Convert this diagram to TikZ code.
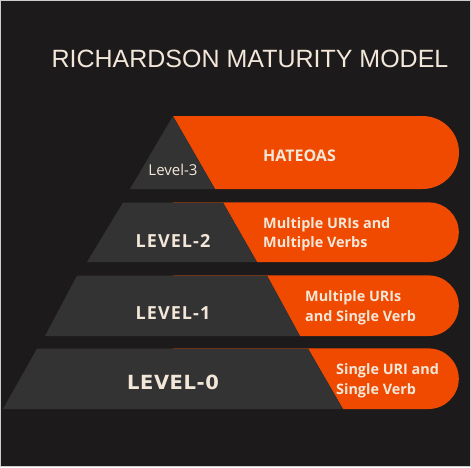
\documentclass[tikz,border=0pt]{standalone}
\usepackage{fontspec}
\setmainfont{Open Sans}
\newfontfamily\titlefont{Liberation Sans}
\newfontfamily\heavyfont[LetterSpace=3]{DejaVu Sans}
\newfontfamily\spacedfont[LetterSpace=6]{Open Sans}
\definecolor{bgdark}{RGB}{29,26,27}
\definecolor{slate}{RGB}{51,51,51}
\definecolor{flame}{RGB}{240,74,0}
\definecolor{cream}{RGB}{243,231,217}
\definecolor{frame}{RGB}{205,205,205}
\tikzset{
  pill/.style={fill=flame},
  block/.style={fill=slate},
  seam/.style={draw=flame!55!bgdark, line width=0.8pt},
  lvltext/.style={text=cream, inner sep=0pt},
  desc/.style={text=cream, inner sep=0pt, anchor=west, align=left, font=\bfseries\fontsize{14.4}{19.5}\selectfont},
}
\begin{document}
\begin{tikzpicture}[x=1pt,y=-1pt]
\useasboundingbox (0,0) rectangle (471,467);
\fill[bgdark] (0,0) rectangle (471,467);
\draw[frame, line width=1.4pt] (0.7,0.7) rectangle (470.3,466.3);

\node[lvltext, font=\titlefont\fontsize{25}{30}\selectfont, anchor=base] (title) at (250,67) {RICHARDSON MATURITY MODEL};

% Level 3
\fill[pill] (173,116) -- (422.5,116) arc[start angle=-90, end angle=90, radius=36.5] -- (215,189) -- cycle;
\fill[block] (173,116) -- (215,189) -- (130,189) -- cycle;
\node[lvltext, font=\fontsize{15}{18}\selectfont, anchor=base] (l3) at (173,175) {Level-3};
\node[lvltext, font=\bfseries\fontsize{16}{18}\selectfont, anchor=base] (d3) at (299.5,161) {HATEOAS};

% Level 2
\draw[seam] (173,202) -- (223,202);
\fill[pill] (223,202.4) -- (429,202.4) arc[start angle=-90, end angle=90, radius=29.8] -- (257,262) -- cycle;
\fill[block] (123,202.6) -- (223,202.6) -- (257,262) -- (87,262) -- cycle;
\node[lvltext, font=\spacedfont\bfseries\fontsize{18}{21}\selectfont, anchor=base] (l2) at (173,247) {LEVEL-2};
\node[desc] (d2) at (263,234.5) {Multiple URIs and\\Multiple Verbs};

% Level 1
\draw[seam] (173,275) -- (267,275);
\fill[pill] (267,275.4) -- (428.5,275.4) arc[start angle=-90, end angle=90, radius=30.3] -- (300,336) -- cycle;
\fill[block] (77,275.6) -- (267,275.6) -- (300,336) -- (45,336) -- cycle;
\node[lvltext, font=\spacedfont\bfseries\fontsize{18}{21}\selectfont, anchor=base] (l1) at (173,319) {LEVEL-1};
\node[desc] (d1) at (305,307.5) {Multiple URIs\\and Single Verb};

% Level 0
\draw[seam] (173,348) -- (308,348);
\fill[pill] (308,348.4) -- (428.5,348.4) arc[start angle=-90, end angle=90, radius=30.3] -- (343,409) -- cycle;
\fill[block] (37,348.6) -- (308,348.6) -- (343,409) -- (3,409) -- cycle;
\node[lvltext, font=\heavyfont\bfseries\fontsize{19.5}{22}\selectfont, anchor=base] (l0) at (173,389) {LEVEL-0};
\node[desc] (d0) at (336,380.5) {Single URI and\\Single Verb};
\end{tikzpicture}
\end{document}
